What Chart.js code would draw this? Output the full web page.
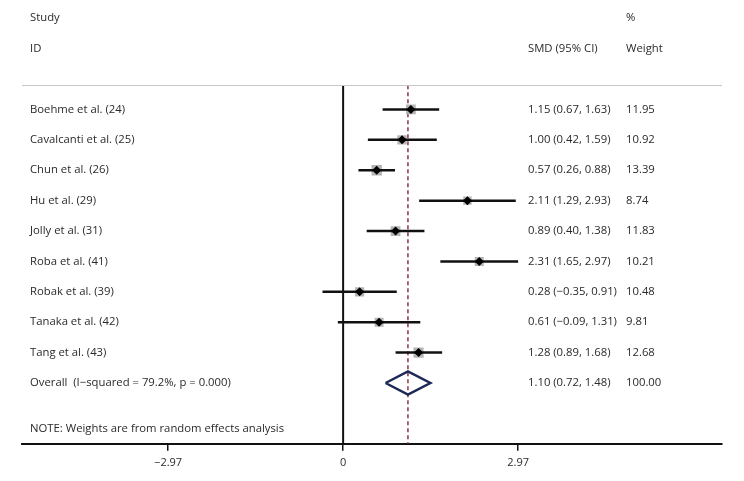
<!DOCTYPE html>
<html>
<head>
<meta charset="utf-8">
<script src="https://cdn.jsdelivr.net/npm/chart.js@4"></script>
<style>
  html, body { margin: 0; padding: 0; background: #fff; }
  #wrap { width: 744px; height: 481px; }
</style>
</head>
<body>
<div id="wrap"><canvas id="forestChart"></canvas></div>
<script>
// Study data
const studies = ['Boehme et al. (24)', 'Cavalcanti et al. (25)', 'Chun et al. (26)', 'Hu et al. (29)',
  'Jolly et al. (31)', 'Roba et al. (41)', 'Robak et al. (39)', 'Tanaka et al. (42)', 'Tang et al. (43)'];
const smd = [1.15, 1.00, 0.57, 2.11, 0.89, 2.31, 0.28, 0.61, 1.28];
const ciLow = [0.67, 0.42, 0.26, 1.29, 0.40, 1.65, -0.35, -0.09, 0.89];
const ciHigh = [1.63, 1.59, 0.88, 2.93, 1.38, 2.97, 0.91, 1.31, 1.68];
const weights = [11.95, 10.92, 13.39, 8.74, 11.83, 10.21, 10.48, 9.81, 12.68];

// Pooled estimate
const overallLabel = 'Overall  (I\u2212squared = 79.2%, p = 0.000)';
const overall = { est: 1.10, low: 0.72, high: 1.48, weight: '100.00' };

// Axis ticks
const tickValues = [-2.97, 0, 2.97];
const tickLabels = ['\u22122.97', '0', '2.97'];

const fmt = v => (v < 0 ? '\u2212' : '') + Math.abs(v).toFixed(2);
const ciText = i => smd[i].toFixed(2) + ' (' + fmt(ciLow[i]) + ', ' + fmt(ciHigh[i]) + ')';

const overallRow = studies.length;
const textColor = '#2a2a2a';
const fontFamily = '"Open Sans", sans-serif';

// Text columns and header line
const tablePlugin = {
  id: 'tablePlugin',
  afterDraw(chart) {
    const { ctx, scales: { x, y } } = chart;
    ctx.save();
    ctx.fillStyle = textColor;
    ctx.font = '11.3px ' + fontFamily;
    ctx.textBaseline = 'middle';
    const colLabel = 30, colCi = 528, colW = 626;
    ctx.fillText('Study', colLabel, y.getPixelForValue(-3));
    ctx.fillText('ID', colLabel, y.getPixelForValue(-2));
    ctx.fillText('%', colW, y.getPixelForValue(-3));
    ctx.fillText('SMD (95% CI)', colCi, y.getPixelForValue(-2));
    ctx.fillText('Weight', colW, y.getPixelForValue(-2));
    studies.forEach((s, i) => {
      const py = y.getPixelForValue(i);
      ctx.fillText(s, colLabel, py);
      ctx.fillText(ciText(i), colCi, py);
      ctx.fillText(weights[i].toFixed(2), colW, py);
    });
    const po = y.getPixelForValue(overallRow);
    ctx.fillText(overallLabel, colLabel, po);
    ctx.fillText(overall.est.toFixed(2) + ' (' + fmt(overall.low) + ', ' + fmt(overall.high) + ')', colCi, po);
    ctx.fillText(overall.weight, colW, po);
    ctx.fillText('NOTE: Weights are from random effects analysis', colLabel, y.getPixelForValue(10.5));
    // gray separator under the header
    ctx.strokeStyle = '#c8c8c8';
    ctx.lineWidth = 1;
    ctx.beginPath();
    const ly = Math.round(y.getPixelForValue(-0.8)) + 0.5;
    ctx.moveTo(chart.chartArea.left, ly);
    ctx.lineTo(chart.chartArea.right, ly);
    ctx.stroke();
    ctx.restore();
  }
};

const ciDatasets = studies.map((s, i) => ({
  type: 'line',
  data: [{ x: ciLow[i], y: i }, { x: ciHigh[i], y: i }],
  borderColor: '#111',
  borderWidth: 2.5,
  pointRadius: 0,
  order: 1
}));

const ctx = document.getElementById('forestChart').getContext('2d');
const forestChart = new Chart(ctx, {
  type: 'scatter',
  data: {
    datasets: [
      // point estimates
      {
        data: smd.map((v, i) => ({ x: v, y: i })),
        pointStyle: 'rectRot',
        pointRadius: 4.5,
        backgroundColor: '#000',
        borderColor: '#000',
        borderWidth: 0,
        order: 0
      },
      ...ciDatasets,
      // weight boxes
      {
        data: smd.map((v, i) => ({ x: v, y: i })),
        pointStyle: 'rect',
        pointRadius: weights.map(w => 2.0 * Math.sqrt(w)),
        backgroundColor: '#b4b4b4',
        borderWidth: 0,
        order: 2
      },
      // overall diamond
      {
        type: 'line',
        data: [
          { x: overall.low, y: overallRow },
          { x: overall.est, y: overallRow - 0.38 },
          { x: overall.high, y: overallRow },
          { x: overall.est, y: overallRow + 0.38 },
          { x: overall.low, y: overallRow }
        ],
        borderColor: '#1c2a55',
        borderWidth: 2.5,
        pointRadius: 0,
        order: 0
      },
      // null line
      {
        type: 'line',
        data: [{ x: 0, y: -0.8 }, { x: 0, y: 11 }],
        borderColor: '#111',
        borderWidth: 2,
        pointRadius: 0,
        order: 3
      },
      // overall estimate line
      {
        type: 'line',
        data: [{ x: overall.est, y: -0.8 }, { x: overall.est, y: 11 }],
        borderColor: '#8e3344',
        borderWidth: 1.5,
        borderDash: [4, 3],
        pointRadius: 0,
        order: 3
      }
    ]
  },
  options: {
    responsive: true,
    maintainAspectRatio: false,
    animation: false,
    layout: { padding: { left: 22, right: 22, top: -4, bottom: 7 } },
    plugins: {
      legend: { display: false },
      tooltip: { enabled: false }
    },
    scales: {
      x: {
        type: 'linear',
        min: -5.45,
        max: 6.43,
        afterBuildTicks: axis => { axis.ticks = tickValues.map(v => ({ value: v })); },
        ticks: {
          callback: (value, index) => tickLabels[index],
          color: textColor,
          font: { family: fontFamily, size: 11 },
          padding: 5,
          maxRotation: 0
        },
        grid: { drawOnChartArea: false, drawTicks: true, tickLength: 7, color: '#111', lineWidth: 1.5 },
        border: { display: true, color: '#111', width: 2 }
      },
      y: {
        type: 'linear',
        display: false,
        reverse: true,
        min: -3.36,
        max: 11
      }
    }
  },
  plugins: [tablePlugin]
});
</script>
</body>
</html>
